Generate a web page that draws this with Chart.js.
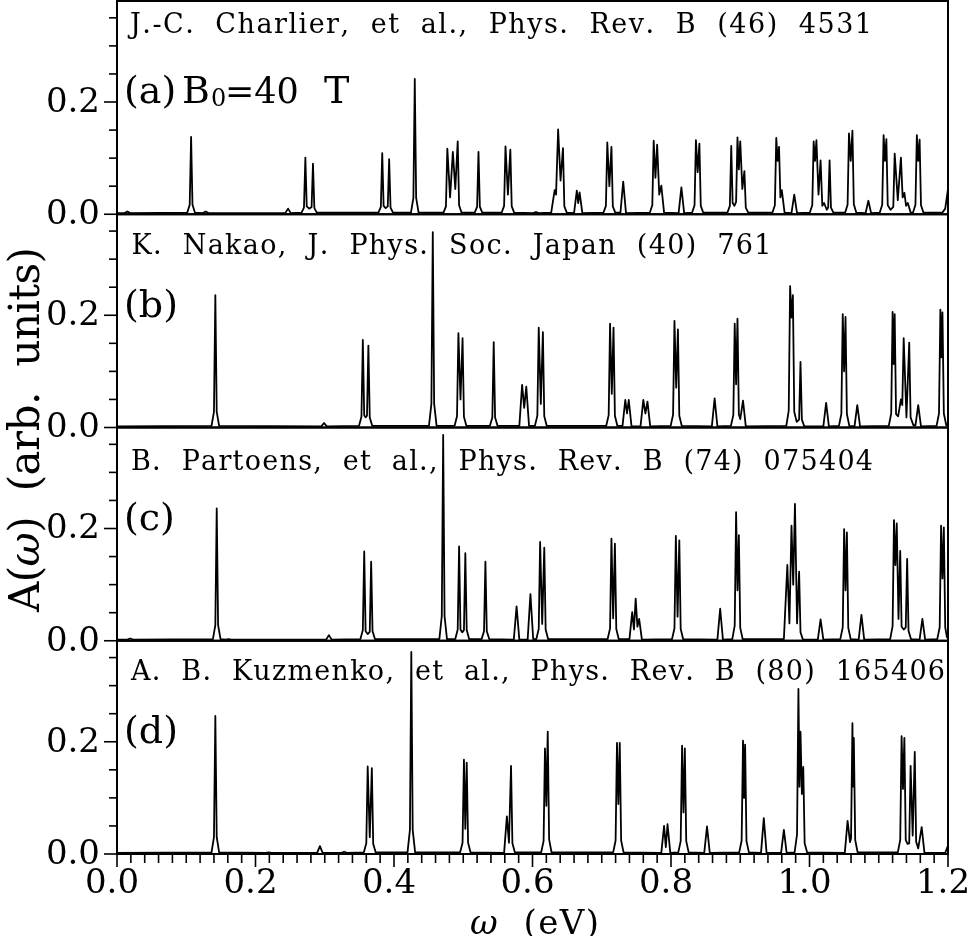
<!DOCTYPE html>
<html><head><meta charset="utf-8">
<script src="https://cdn.jsdelivr.net/npm/chart.js@4.4.1/dist/chart.umd.min.js"></script>
<style>html,body{margin:0;padding:0;background:#fff;}canvas{display:block;}</style>
</head><body>
<canvas id="c" width="968" height="936"></canvas>
<script>
// ---------- data (eV, arb. units) ----------
const panelIds = ['ya', 'yb', 'yc', 'yd'];
const panelLabels = ['(a)', '(b)', '(c)', '(d)'];
const citations = [
  'J.-C.  Charlier,  et  al.,  Phys.  Rev.  B  (46)  4531',
  'K.  Nakao,  J.  Phys.  Soc.  Japan  (40)  761',
  'B.  Partoens,  et  al.,  Phys.  Rev.  B  (74)  075404',
  'A.  B.  Kuzmenko,  et  al.,  Phys.  Rev.  B  (80)  165406'
];
const fieldLabel = ['B', '0', '=40', 'T'];
const xTitle = ['\u03C9', '  (eV)'];
const yTitle = ['A(', '\u03C9', ')  (arb.  units)'];
const xTickLabels = ['0.0', '0.2', '0.4', '0.6', '0.8', '1.0', '1.2'];
const yTickValues = [0, 0.05, 0.1, 0.15, 0.2, 0.25, 0.3, 0.35];
const yTickLabels = ['0.0', '', '', '', '0.2', '', '', ''];

const seriesA = [[0,0.002],
 [0.011,0.002],[0.015,0.005],[0.019,0.002],
 [0.1015,0.003],[0.105,0.017],[0.107,0.138],[0.109,0.017],[0.1125,0.003],
 [0.124,0.002],[0.128,0.005],[0.132,0.002],
 [0.243,0.002],[0.247,0.010],[0.251,0.002],
 [0.2665,0.003],[0.270,0.012],[0.272,0.101],[0.274,0.014],[0.2775,0.010],[0.281,0.013],[0.283,0.090],[0.285,0.011],[0.2885,0.003],
 [0.3775,0.003],[0.381,0.013],[0.383,0.109],[0.385,0.015],[0.388,0.011],[0.391,0.014],[0.393,0.098],[0.395,0.012],[0.3985,0.003],
 [0.4245,0.003],[0.428,0.029],[0.430,0.241],[0.432,0.029],[0.4355,0.003],
 [0.4715,0.003],[0.475,0.014],[0.477,0.117],[0.481,0.030],[0.485,0.111],[0.4885,0.045],[0.492,0.130],[0.494,0.016],[0.4975,0.003],
 [0.5165,0.003],[0.520,0.013],[0.522,0.111],[0.524,0.013],[0.5275,0.003],
 [0.5555,0.003],[0.559,0.015],[0.561,0.121],[0.5645,0.035],[0.568,0.115],[0.570,0.014],[0.5735,0.003],
 [0.601,0.002],[0.605,0.004],[0.609,0.002],
 [0.627,0.003],[0.632,0.043],[0.634,0.035],[0.637,0.151],[0.6405,0.060],[0.644,0.118],[0.646,0.014],[0.6495,0.003],
 [0.660,0.002],[0.664,0.042],[0.666,0.020],[0.668,0.039],[0.672,0.002],
 [0.7025,0.003],[0.706,0.015],[0.708,0.128],[0.711,0.050],[0.714,0.120],[0.716,0.014],[0.7195,0.003],
 [0.727,0.003],[0.731,0.058],[0.735,0.002],
 [0.7695,0.003],[0.773,0.016],[0.775,0.131],[0.7775,0.065],[0.780,0.124],[0.783,0.035],[0.786,0.051],[0.790,0.003],
 [0.811,0.002],[0.815,0.048],[0.819,0.002],
 [0.8305,0.003],[0.834,0.016],[0.836,0.132],[0.8385,0.075],[0.841,0.126],[0.843,0.015],[0.8465,0.003],
 [0.8815,0.003],[0.885,0.015],[0.887,0.122],[0.889,0.020],[0.8915,0.015],[0.894,0.022],[0.896,0.137],[0.898,0.080],[0.900,0.130],[0.903,0.045],[0.906,0.077],[0.908,0.012],[0.9115,0.003],
 [0.9465,0.003],[0.950,0.016],[0.952,0.136],[0.954,0.095],[0.956,0.120],[0.958,0.030],[0.960,0.043],[0.964,0.003],
 [0.974,0.002],[0.978,0.035],[0.982,0.002],
 [1.0005,0.003],[1.004,0.016],[1.006,0.130],[1.008,0.095],[1.010,0.132],[1.013,0.035],[1.016,0.096],[1.0185,0.015],[1.021,0.020],[1.025,0.008],[1.027,0.012],[1.029,0.096],[1.031,0.012],[1.0345,0.003],
 [1.0515,0.003],[1.055,0.017],[1.057,0.144],[1.0595,0.095],[1.062,0.149],[1.064,0.018],[1.0675,0.003],
 [1.081,0.002],[1.085,0.024],[1.089,0.002],
 [1.1015,0.003],[1.105,0.017],[1.107,0.141],[1.109,0.095],[1.111,0.134],[1.113,0.016],[1.117,0.008],[1.121,0.013],[1.123,0.108],[1.1275,0.025],[1.132,0.101],[1.1345,0.030],[1.137,0.038],[1.1395,0.015],[1.142,0.020],[1.146,0.003],
 [1.1495,0.003],[1.153,0.017],[1.155,0.141],[1.157,0.095],[1.159,0.133],[1.161,0.016],[1.1645,0.003],
 [1.192,0.003],[1.196,0.010],[1.200,0.045]];

const seriesB = [[0,0.002],
 [0.1365,0.003],[0.140,0.028],[0.142,0.236],[0.144,0.028],[0.1475,0.003],
 [0.295,0.002],[0.299,0.008],[0.303,0.002],
 [0.3495,0.003],[0.353,0.019],[0.355,0.156],[0.357,0.022],[0.359,0.018],[0.361,0.021],[0.363,0.146],[0.365,0.018],[0.3685,0.003],
 [0.4505,0.003],[0.454,0.042],[0.456,0.348],[0.458,0.042],[0.4615,0.003],
 [0.4875,0.003],[0.491,0.020],[0.493,0.168],[0.496,0.050],[0.499,0.159],[0.501,0.019],[0.5045,0.003],
 [0.5385,0.003],[0.542,0.018],[0.544,0.152],[0.546,0.018],[0.5495,0.003],
 [0.581,0.003],[0.585,0.076],[0.588,0.035],[0.591,0.073],[0.595,0.003],
 [0.6035,0.003],[0.607,0.021],[0.609,0.178],[0.612,0.042],[0.615,0.170],[0.617,0.020],[0.6205,0.003],
 [0.7065,0.003],[0.710,0.022],[0.712,0.185],[0.7145,0.060],[0.717,0.178],[0.719,0.021],[0.7225,0.003],
 [0.730,0.003],[0.734,0.049],[0.7365,0.025],[0.739,0.049],[0.743,0.002],
 [0.756,0.002],[0.760,0.049],[0.763,0.025],[0.766,0.046],[0.770,0.002],
 [0.7995,0.003],[0.803,0.023],[0.805,0.190],[0.8075,0.071],[0.810,0.175],[0.812,0.021],[0.8155,0.003],
 [0.859,0.002],[0.863,0.052],[0.867,0.002],
 [0.8865,0.003],[0.890,0.022],[0.892,0.185],[0.894,0.077],[0.896,0.194],[0.898,0.023],[0.900,0.015],[0.904,0.048],[0.908,0.002],
 [0.9665,0.003],[0.970,0.030],[0.972,0.252],[0.974,0.196],[0.976,0.236],[0.978,0.028],[0.9815,0.010],[0.985,0.014],[0.987,0.117],[0.989,0.014],[0.9925,0.002],
 [1.020,0.002],[1.024,0.044],[1.028,0.002],
 [1.0425,0.003],[1.046,0.024],[1.048,0.202],[1.050,0.100],[1.052,0.197],[1.054,0.024],[1.0575,0.003],
 [1.065,0.002],[1.069,0.040],[1.073,0.002],
 [1.1145,0.003],[1.118,0.025],[1.120,0.206],[1.1215,0.113],[1.123,0.202],[1.125,0.024],[1.128,0.020],[1.132,0.050],[1.134,0.040],[1.136,0.159],[1.140,0.018],[1.144,0.151],[1.146,0.018],[1.150,0.004],[1.153,0.004],[1.157,0.040],[1.161,0.002],
 [1.1835,0.003],[1.187,0.025],[1.189,0.210],[1.1905,0.125],[1.192,0.205],[1.194,0.025],[1.1975,0.004],[1.200,0.006]];

const seriesC = [[0,0.002],
 [0.015,0.002],[0.019,0.004],[0.023,0.002],
 [0.1385,0.003],[0.142,0.028],[0.144,0.236],[0.146,0.028],[0.1495,0.003],
 [0.157,0.002],[0.161,0.003],[0.165,0.002],
 [0.302,0.002],[0.306,0.010],[0.310,0.002],
 [0.3515,0.003],[0.355,0.019],[0.357,0.159],[0.359,0.017],[0.362,0.012],[0.365,0.016],[0.367,0.141],[0.369,0.017],[0.3725,0.003],
 [0.4655,0.003],[0.469,0.044],[0.471,0.367],[0.473,0.044],[0.4765,0.003],
 [0.4885,0.003],[0.492,0.020],[0.494,0.168],[0.496,0.020],[0.4985,0.015],[0.501,0.019],[0.503,0.156],[0.505,0.019],[0.5085,0.003],
 [0.5265,0.003],[0.530,0.017],[0.532,0.141],[0.534,0.017],[0.5375,0.003],
 [0.573,0.002],[0.577,0.061],[0.581,0.002],
 [0.593,0.002],[0.597,0.083],[0.601,0.003],
 [0.6055,0.003],[0.609,0.021],[0.611,0.176],[0.614,0.030],[0.617,0.166],[0.619,0.020],[0.6225,0.003],
 [0.7085,0.003],[0.712,0.022],[0.714,0.182],[0.7165,0.040],[0.719,0.173],[0.721,0.021],[0.7245,0.003],
 [0.740,0.003],[0.744,0.051],[0.7465,0.020],[0.749,0.075],[0.7515,0.025],[0.754,0.039],[0.758,0.002],
 [0.8015,0.003],[0.805,0.022],[0.807,0.187],[0.8095,0.043],[0.812,0.179],[0.814,0.021],[0.8175,0.003],
 [0.867,0.002],[0.871,0.057],[0.875,0.002],
 [0.8885,0.003],[0.892,0.027],[0.894,0.229],[0.896,0.090],[0.898,0.188],[0.900,0.023],[0.9035,0.003],
 [0.963,0.003],[0.968,0.135],[0.971,0.031],[0.974,0.205],[0.9765,0.100],[0.979,0.244],[0.982,0.031],[0.985,0.123],[0.987,0.015],[0.9905,0.002],
 [1.012,0.002],[1.016,0.038],[1.020,0.002],
 [1.0445,0.003],[1.048,0.024],[1.050,0.199],[1.052,0.090],[1.054,0.193],[1.056,0.023],[1.0595,0.003],
 [1.071,0.002],[1.075,0.046],[1.079,0.002],
 [1.1165,0.003],[1.120,0.026],[1.122,0.215],[1.124,0.135],[1.126,0.209],[1.1285,0.039],[1.131,0.160],[1.133,0.025],[1.136,0.020],[1.139,0.024],[1.141,0.146],[1.143,0.018],[1.1465,0.003],
 [1.159,0.002],[1.163,0.039],[1.167,0.002],
 [1.1845,0.003],[1.188,0.024],[1.190,0.205],[1.192,0.111],[1.194,0.202],[1.196,0.024],[1.1985,0.006],[1.200,0.013]];

const seriesD = [[0,0.002],
 [0.1365,0.003],[0.140,0.030],[0.142,0.246],[0.144,0.030],[0.1475,0.003],
 [0.215,0.002],[0.219,0.003],[0.223,0.002],
 [0.289,0.002],[0.293,0.014],[0.297,0.002],
 [0.324,0.002],[0.328,0.004],[0.332,0.002],
 [0.3565,0.003],[0.360,0.019],[0.362,0.156],[0.365,0.030],[0.368,0.153],[0.370,0.018],[0.3735,0.003],
 [0.4195,0.003],[0.423,0.043],[0.425,0.360],[0.427,0.043],[0.4305,0.003],
 [0.4955,0.003],[0.499,0.020],[0.501,0.168],[0.503,0.045],[0.505,0.163],[0.507,0.020],[0.5105,0.003],
 [0.559,0.002],[0.563,0.067],[0.566,0.020],[0.569,0.157],[0.571,0.019],[0.5745,0.003],
 [0.6125,0.003],[0.616,0.023],[0.618,0.188],[0.620,0.086],[0.622,0.218],[0.624,0.026],[0.6275,0.003],
 [0.7165,0.003],[0.720,0.024],[0.722,0.198],[0.724,0.089],[0.726,0.198],[0.728,0.024],[0.7315,0.003],
 [0.786,0.002],[0.790,0.050],[0.7925,0.012],[0.795,0.053],[0.799,0.002],
 [0.8105,0.003],[0.814,0.023],[0.816,0.193],[0.818,0.074],[0.820,0.188],[0.822,0.023],[0.8255,0.003],
 [0.848,0.002],[0.852,0.049],[0.856,0.002],
 [0.8985,0.003],[0.902,0.024],[0.904,0.202],[0.9055,0.100],[0.907,0.195],[0.909,0.023],[0.9125,0.003],
 [0.930,0.002],[0.934,0.064],[0.938,0.002],
 [0.959,0.002],[0.963,0.043],[0.967,0.002],
 [0.9785,0.003],[0.982,0.035],[0.984,0.294],[0.9855,0.120],[0.987,0.218],[0.989,0.107],[0.991,0.155],[0.993,0.019],[0.9965,0.003],
 [1.051,0.002],[1.055,0.059],[1.0585,0.021],[1.060,0.028],[1.062,0.233],[1.063,0.120],[1.064,0.207],[1.066,0.025],[1.0695,0.003],
 [1.1275,0.003],[1.131,0.025],[1.133,0.210],[1.135,0.116],[1.137,0.207],[1.139,0.025],[1.1415,0.018],[1.144,0.019],[1.146,0.157],[1.149,0.033],[1.152,0.182],[1.154,0.022],[1.157,0.010],[1.162,0.048],[1.166,0.002],
 [1.196,0.002],[1.200,0.015]];

const allSeries = [seriesA, seriesB, seriesC, seriesD];

// ---------- layout / style ----------
const FONT = "'DejaVu Serif', 'Liberation Serif', serif";
const layout = {
  citeX: [130, 131.5, 131, 131],
  citeY: [33.3, 254.3, 470, 680],
  citeW: [742, 640, 742, 814],
  labelY: [103.3, 316.7, 530, 743]
};

function yAxis() {
  return {
    type: 'linear', position: 'left', stack: 'panels', stackWeight: 1,
    min: 0, max: 0.38,
    afterFit: s => { s.width = 117; s.paddingTop = 0; s.paddingBottom = 0; },
    afterBuildTicks: s => { s.ticks = yTickValues.map(v => ({ value: v })); },
    ticks: {
      autoSkip: false, color: '#000', padding: 4, labelOffset: 1,
      font: { family: FONT, size: 34, lineHeight: 1 },
      callback: (v, i) => yTickLabels[i] || ''
    },
    grid: { drawOnChartArea: false, drawTicks: true, tickLength: 13, color: 'rgba(0,0,0,0)' },
    border: { display: false }
  };
}

function drawFit(ctx, parts, x, y, target) {
  const chars = [];
  parts.forEach(p => { for (const ch of p.t) chars.push({ ch, font: p.font }); });
  let w = 0;
  chars.forEach(c => { ctx.font = c.font; c.w = ctx.measureText(c.ch).width; w += c.w; });
  const ls = chars.length > 1 ? (target - w) / (chars.length - 1) : 0;
  let cx = x;
  chars.forEach(c => { ctx.font = c.font; ctx.fillText(c.ch, cx, y); cx += c.w + ls; });
}

const deco = {
  id: 'deco',
  beforeDraw(chart) {
    const ctx = chart.ctx;
    ctx.save(); ctx.fillStyle = '#fff'; ctx.fillRect(0, 0, chart.width, chart.height); ctx.restore();
  },
  afterDraw(chart) {
    const ctx = chart.ctx, ca = chart.chartArea, xs = chart.scales.x;
    ctx.save();
    ctx.strokeStyle = '#000'; ctx.fillStyle = '#000';
    ctx.textBaseline = 'alphabetic'; ctx.textAlign = 'left';
    panelIds.forEach((id, k) => {
      const s = chart.scales[id];
      ctx.lineWidth = 2;
      ctx.strokeRect(ca.left, s.top, ca.right - ca.left, s.bottom - s.top);
      ctx.lineWidth = 1.6;
      yTickValues.forEach((v, i) => {
        const py = s.getPixelForValue(v);
        const len = yTickLabels[i] ? 13 : 8;
        ctx.beginPath(); ctx.moveTo(ca.left - len, py); ctx.lineTo(ca.left, py); ctx.stroke();
      });
      drawFit(ctx, [{ t: citations[k], font: '27px ' + FONT }], layout.citeX[k], layout.citeY[k], layout.citeW[k]);
      ctx.font = '38px ' + FONT;
      ctx.fillText(panelLabels[k], 124, layout.labelY[k]);
    });
    // field label in panel (a)
    const by = layout.labelY[0];
    ctx.font = '38px ' + FONT; ctx.fillText(fieldLabel[0], 182, by);
    ctx.font = '24px ' + FONT; ctx.fillText(fieldLabel[1], 211, by + 3);
    ctx.font = '35px ' + FONT; ctx.fillText(fieldLabel[2], 225, by);
    ctx.font = '38px ' + FONT; ctx.fillText(fieldLabel[3], 324, by);
    // x ticks
    ctx.lineWidth = 1.6;
    xs.ticks.forEach((t, i) => {
      const px = xs.getPixelForValue(t.value);
      const len = i % 10 === 0 ? 13 : 9;
      ctx.beginPath(); ctx.moveTo(px, ca.bottom); ctx.lineTo(px, ca.bottom + len); ctx.stroke();
    });
    // x title
    drawFit(ctx, [{ t: xTitle[0], font: 'italic 34px ' + FONT }, { t: xTitle[1], font: '34px ' + FONT }], 470, 934, 129);
    // y title
    ctx.translate(39, 430);
    ctx.rotate(-Math.PI / 2);
    drawFit(ctx, [{ t: yTitle[0], font: '42px ' + FONT }, { t: yTitle[1], font: 'italic 42px ' + FONT }, { t: yTitle[2], font: '42px ' + FONT }], -182, 0, 365);
    ctx.restore();
  }
};

const datasets = allSeries.map((d, k) => ({
  data: d, yAxisID: panelIds[k], xAxisID: 'x',
  borderColor: '#000', borderWidth: 1.8, pointRadius: 0, tension: 0, fill: false,
  borderJoinStyle: 'round'
}));

new Chart(document.getElementById('c'), {
  type: 'line',
  data: { datasets },
  options: {
    responsive: false, animation: false, devicePixelRatio: 1,
    layout: { padding: { top: 1, right: 20, left: 0, bottom: 0 } },
    plugins: { legend: { display: false }, tooltip: { enabled: false } },
    scales: {
      x: {
        type: 'linear', position: 'bottom', min: 0, max: 1.2,
        afterFit: s => { s.height = 82; s.paddingLeft = 0; s.paddingRight = 0; },
        afterBuildTicks: s => {
          const t = [];
          for (let i = 0; i <= 60; i++) t.push({ value: +(i * 0.02).toFixed(2) });
          s.ticks = t;
        },
        ticks: {
          autoSkip: false, maxRotation: 0, minRotation: 0, color: '#000', padding: 0, labelOffset: -5,
          font: { family: FONT, size: 34, lineHeight: 1 },
          callback: (v, i) => (i % 10 === 0 ? xTickLabels[i / 10] : '')
        },
        grid: { drawOnChartArea: false, drawTicks: true, tickLength: 13, color: 'rgba(0,0,0,0)' },
        border: { display: false }
      },
      yd: yAxis(), yc: yAxis(), yb: yAxis(), ya: yAxis()
    }
  },
  plugins: [deco]
});
</script>
</body></html>
